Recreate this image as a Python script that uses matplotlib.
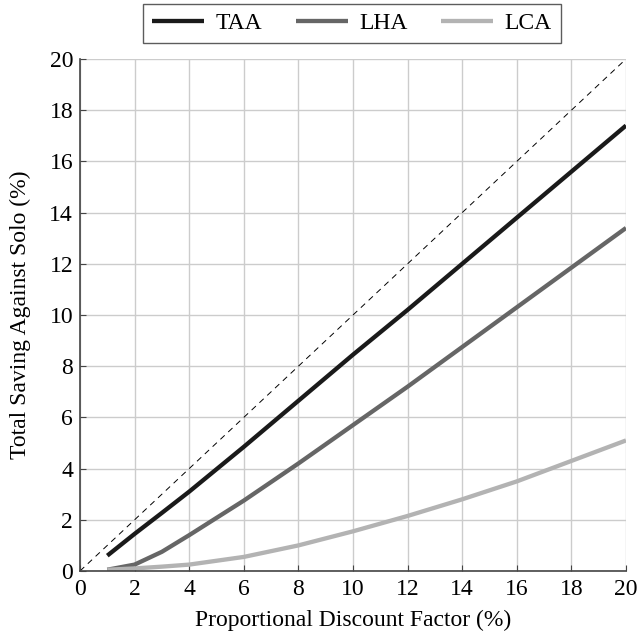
import numpy as np
import matplotlib.pyplot as plt

plt.rcParams['font.family'] = ['Liberation Serif', 'DejaVu Serif']

x = [1, 2, 3, 4, 6, 8, 10, 12, 14, 16, 18, 20]
taa = [0.6, 1.45, 2.27, 3.1, 4.85, 6.65, 8.45, 10.2, 12.0, 13.8, 15.6, 17.4]
lha = [0.05, 0.25, 0.75, 1.4, 2.75, 4.2, 5.7, 7.2, 8.75, 10.3, 11.85, 13.4]
lca = [0.05, 0.1, 0.17, 0.25, 0.55, 1.0, 1.55, 2.15, 2.8, 3.5, 4.3, 5.1]

fig = plt.figure(figsize=(6.38, 6.36), dpi=100)
ax = fig.add_axes([80 / 638, 1 - 571 / 636, 546 / 638, 512 / 636])

ax.plot([0, 20], [0, 20], color='black', lw=0.7, ls=(0, (6, 5)))
ax.plot(x, taa, color='#1a1a1a', lw=3.1, label='TAA', solid_capstyle='butt')
ax.plot(x, lha, color='#666666', lw=3.1, label='LHA', solid_capstyle='butt')
ax.plot(x, lca, color='#b3b3b3', lw=3.1, label='LCA', solid_capstyle='butt')

ax.set_xlim(0, 20)
ax.set_ylim(0, 20)
ax.set_xticks(range(0, 21, 2))
ax.set_yticks(range(0, 21, 2))
ax.grid(True, color='#cccccc', lw=1)
ax.set_axisbelow(True)
for s in ['top', 'right']:
    ax.spines[s].set_visible(False)
for s in ['left', 'bottom']:
    ax.spines[s].set_color('#444444')
    ax.spines[s].set_linewidth(1.2)
ax.tick_params(direction='in', length=4, width=0.8, colors='#444444',
               labelcolor='black', labelsize=17)
ax.tick_params(axis='x', pad=6)
ax.tick_params(axis='y', pad=5)

ax.set_xlabel('Proportional Discount Factor (%)', fontsize=17, labelpad=7)
ax.set_ylabel('Total Saving Against Solo (%)', fontsize=17, labelpad=13)

leg = ax.legend(loc='lower center', bbox_to_anchor=(0.498, 1.008), ncol=3,
                fontsize=17, frameon=True, fancybox=False, edgecolor='#333333',
                handlelength=2.2, columnspacing=1.4, borderpad=0.38,
                handletextpad=0.5)
leg.get_frame().set_linewidth(1.0)

fig.savefig('out.png', dpi=100)
